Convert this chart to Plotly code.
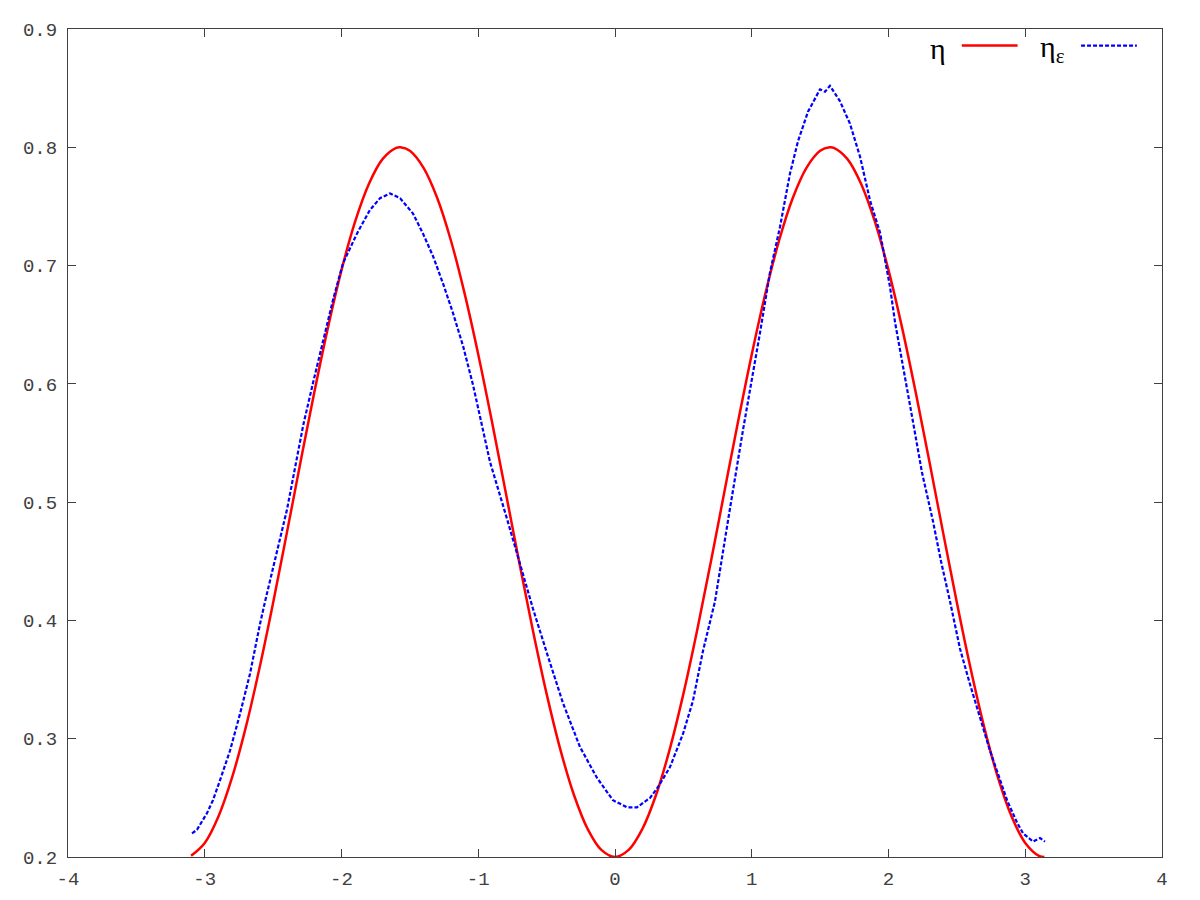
import plotly.graph_objects as go

# eta (red, smooth)
eta_x = [-3.1, -3.0, -2.9, -2.8, -2.7, -2.6, -2.5, -2.4, -2.3, -2.2, -2.1, -2.0,
         -1.9, -1.8, -1.7, -1.6, -1.57, -1.5, -1.4, -1.3, -1.2, -1.1, -1.0, -0.9,
         -0.8, -0.7, -0.6, -0.5, -0.4, -0.3, -0.2, -0.1, 0.0,
         0.1, 0.2, 0.3, 0.4, 0.5, 0.6, 0.7, 0.8, 0.9, 1.0, 1.1, 1.2, 1.3, 1.4,
         1.5, 1.57, 1.6, 1.7, 1.8, 1.9, 2.0, 2.1, 2.2, 2.3, 2.4, 2.5, 2.6, 2.7,
         2.8, 2.9, 3.0, 3.1, 3.14]
eta_y = [0.2010, 0.2119, 0.2343, 0.2673, 0.3096, 0.3595, 0.4149, 0.4738, 0.5337,
         0.5922, 0.6471, 0.6961, 0.7373, 0.7690, 0.7900, 0.7995, 0.8000, 0.7970,
         0.7826, 0.7571, 0.7212, 0.6765, 0.6249, 0.5682, 0.5088, 0.4490, 0.3913,
         0.3379, 0.2910, 0.2524, 0.2237, 0.2060, 0.2000,
         0.2060, 0.2237, 0.2524, 0.2910, 0.3379, 0.3913, 0.4490, 0.5088, 0.5682,
         0.6249, 0.6765, 0.7212, 0.7571, 0.7826, 0.7970, 0.8000, 0.7995, 0.7900,
         0.7690, 0.7373, 0.6961, 0.6471, 0.5922, 0.5337, 0.4738, 0.4149, 0.3595,
         0.3096, 0.2673, 0.2343, 0.2119, 0.2010, 0.2000]

# eta_epsilon (blue, noisy)
eps_x = [-3.093, -3.057, -2.984, -2.940, -2.888, -2.815, -2.742, -2.669, -2.596,
         -2.559, -2.398, -2.280, -2.208, -2.062, -1.989, -1.887, -1.792, -1.718,
         -1.645, -1.572, -1.477, -1.404, -1.331, -1.258, -1.185, -1.111, -1.038,
         -0.965, -0.914, -0.790, -0.680, -0.600, -0.497, -0.380, -0.256, -0.132,
         -0.015, 0.088, 0.161, 0.256, 0.314, 0.402, 0.497, 0.570, 0.643, 0.731,
         0.830, 0.936, 1.060, 1.133, 1.207, 1.280, 1.338, 1.411, 1.499, 1.536,
         1.572, 1.645, 1.718, 1.792, 1.865, 1.938, 2.011, 2.048, 2.179, 2.245,
         2.325, 2.384, 2.450, 2.523, 2.596, 2.742, 2.867, 2.940, 2.984, 3.057,
         3.108, 3.144]
eps_y = [0.220, 0.223, 0.237, 0.248, 0.265, 0.290, 0.321, 0.355, 0.397,
         0.416, 0.494, 0.565, 0.601, 0.671, 0.702, 0.727, 0.747, 0.757,
         0.761, 0.757, 0.744, 0.727, 0.708, 0.685, 0.660, 0.632, 0.599,
         0.562, 0.534, 0.486, 0.441, 0.410, 0.372, 0.330, 0.293, 0.267,
         0.248, 0.242, 0.242, 0.250, 0.259, 0.276, 0.304, 0.332, 0.374, 0.416,
         0.487, 0.561, 0.643, 0.694, 0.733, 0.778, 0.805, 0.830, 0.849, 0.847,
         0.852, 0.839, 0.820, 0.792, 0.755, 0.728, 0.682, 0.652, 0.568, 0.525,
         0.484, 0.450, 0.416, 0.376, 0.346, 0.290, 0.248, 0.229, 0.220, 0.213,
         0.216, 0.213]

x_ticks = [-4, -3, -2, -1, 0, 1, 2, 3, 4]
x_tick_labels = ["-4", "-3", "-2", "-1", "0", "1", "2", "3", "4"]
y_ticks = [0.2, 0.3, 0.4, 0.5, 0.6, 0.7, 0.8, 0.9]
y_tick_labels = ["0.2", "0.3", "0.4", "0.5", "0.6", "0.7", "0.8", "0.9"]

fig = go.Figure()
fig.add_trace(go.Scatter(x=eta_x, y=eta_y, mode="lines", name="η",
                         line=dict(color="#ff0000", width=2.5, shape="spline")))
fig.add_trace(go.Scatter(x=eps_x, y=eps_y, mode="lines", name="η<sub>ε</sub>",
                         line=dict(color="#0000ff", width=2.2, dash="4px,2px")))

axis_style = dict(showline=True, linecolor="#404040", linewidth=1, mirror="allticks",
                  ticks="inside", ticklen=8, tickcolor="#404040", showgrid=False,
                  zeroline=False,
                  tickfont=dict(family="Liberation Mono", size=19, color="#404040"))

fig.update_xaxes(range=[-4, 4], tickvals=x_ticks, ticktext=x_tick_labels,
                 ticklabelstandoff=4, **axis_style)
fig.update_yaxes(range=[0.2, 0.9], tickvals=y_ticks, ticktext=y_tick_labels,
                 ticklabelstandoff=6, **axis_style)

# gnuplot-style key: text first, then the line sample
legend_font = dict(family="Liberation Serif", size=30, color="#000000")
fig.add_annotation(x=0.795, y=0.976, xref="paper", yref="paper", text="η",
                   showarrow=False, xanchor="center", yanchor="middle", font=legend_font)
fig.add_annotation(x=0.900, y=0.976, xref="paper", yref="paper", text="η<sub>ε</sub>",
                   showarrow=False, xanchor="center", yanchor="middle", font=legend_font)
fig.add_shape(type="line", xref="paper", yref="paper", x0=0.817, x1=0.868, y0=0.980, y1=0.980,
              line=dict(color="#ff0000", width=2.5))
fig.add_shape(type="line", xref="paper", yref="paper", x0=0.926, x1=0.977, y0=0.980, y1=0.980,
              line=dict(color="#0000ff", width=2.2, dash="4px,2px"))

# page body adds an 8px offset, so margins are trimmed to keep the frame in place
fig.update_layout(width=1200, height=900, showlegend=False,
                  plot_bgcolor="white", paper_bgcolor="white",
                  margin=dict(l=60, r=46, t=17, b=51))

fig.write_html("out.html")
